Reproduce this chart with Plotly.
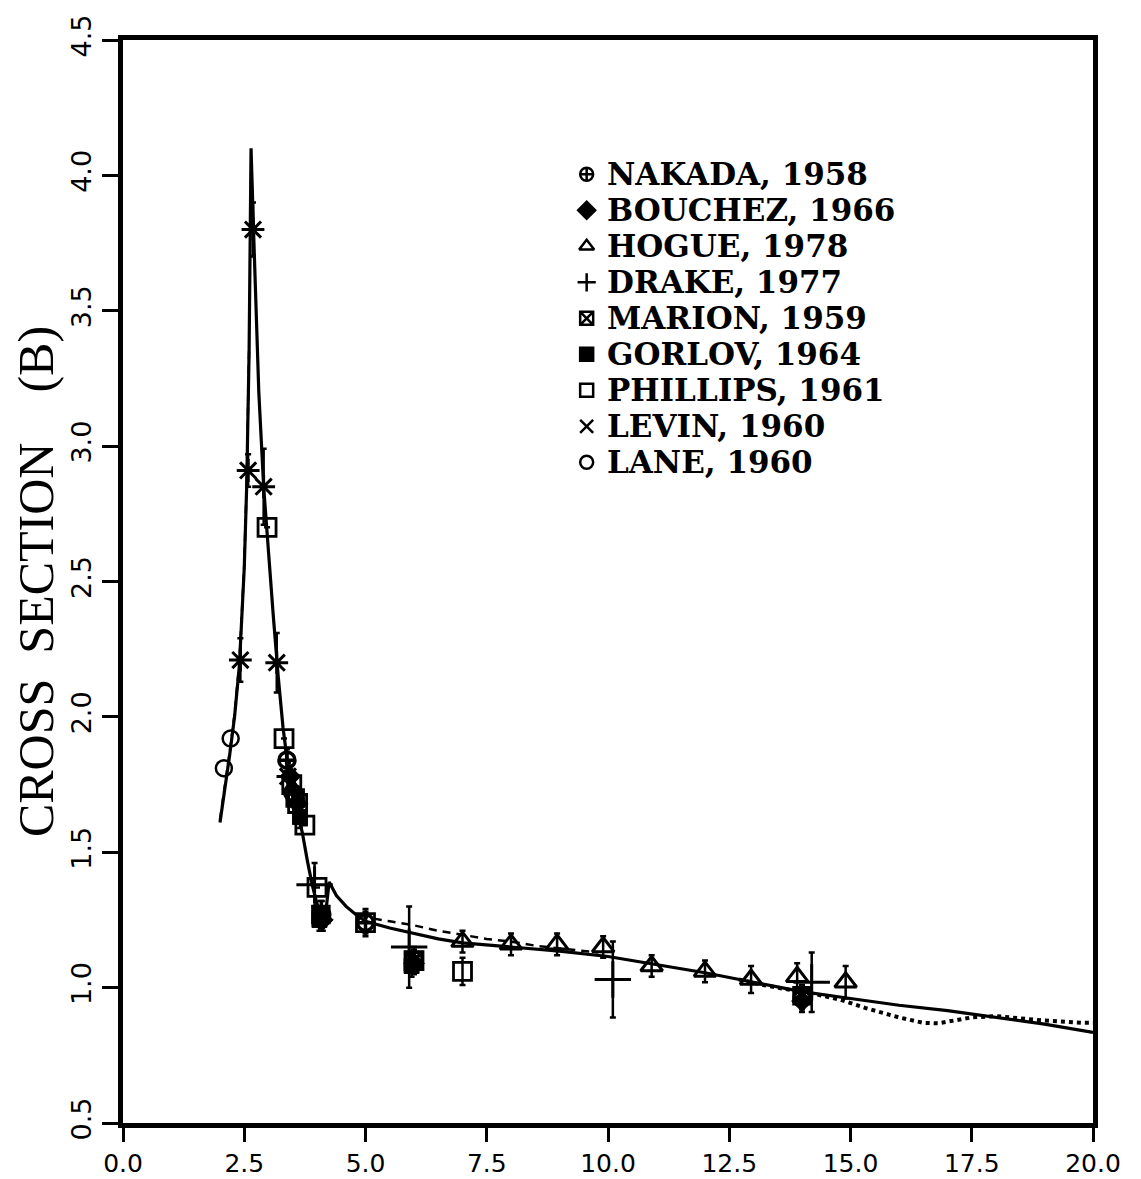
import plotly.graph_objects as go

# ---------------- data ----------------
# theory curve (solid)
curve_x = [2.0, 2.1, 2.2, 2.3, 2.4, 2.5, 2.55, 2.6, 2.64, 2.7, 2.75, 2.8, 2.9, 3.0, 3.1, 3.2,
           3.3, 3.4, 3.5, 3.6, 3.7, 3.8, 3.9, 4.0, 4.1, 4.17, 4.25, 4.4, 4.6, 4.8, 5.0, 5.5,
           6.0, 6.5, 7.0, 8.0, 9.0, 10.0, 11.0, 12.0, 13.0, 14.0, 15.0, 16.0, 17.0, 17.8,
           19.0, 20.0]
curve_y = [1.61, 1.73, 1.86, 2.0, 2.19, 2.55, 2.85, 3.35, 4.1, 3.75, 3.45, 3.2, 2.85, 2.6, 2.37, 2.15,
           1.96, 1.82, 1.72, 1.65, 1.57, 1.47, 1.38, 1.31, 1.27, 1.26, 1.39, 1.34, 1.30, 1.27, 1.245, 1.22,
           1.20, 1.18, 1.165, 1.15, 1.135, 1.115, 1.085, 1.055, 1.02, 0.985, 0.96, 0.935, 0.915, 0.895,
           0.865, 0.835]

# alternative fit (dashed)
dash_x = [2.0, 2.1, 2.2, 2.3, 2.4, 2.5, 2.55, 2.6, None,
          4.9, 5.0, 5.5, 6.0, 6.5, 7.0, 7.5, 8.0, 8.5, 9.0, 9.5, 9.8]
dash_y = [1.62, 1.74, 1.87, 2.01, 2.20, 2.56, 2.86, 3.36, None,
          1.27, 1.26, 1.245, 1.23, 1.21, 1.195, 1.18, 1.17, 1.155, 1.145, 1.135, 1.13]

# alternative fit (dotted)
dot_x = [12.7, 13.2, 13.8, 14.3, 14.8, 15.3, 16.0, 16.5, 16.8, 17.2, 17.5, 18.0, 18.9, 19.8, 20.0]
dot_y = [1.03, 1.01, 0.99, 0.975, 0.955, 0.925, 0.89, 0.87, 0.868, 0.88, 0.89, 0.895, 0.88, 0.87, 0.87]

# experiments
nakada_x = [3.38, 3.5, 4.1, 5.0, 14.0]
nakada_y = [1.84, 1.72, 1.27, 1.24, 0.96]
nakada_e = [0.04, 0.04, 0.05, 0.05, 0.04]

bouchez_x = [3.45, 3.6, 4.12, 6.0, 14.0]
bouchez_y = [1.78, 1.68, 1.25, 1.09, 0.95]
bouchez_e = [0.04, 0.04, 0.04, 0.04, 0.04]

hogue_x = [7.0, 8.0, 8.95, 9.9, 10.9, 12.0, 12.95, 13.9, 14.9]
hogue_y = [1.17, 1.16, 1.16, 1.15, 1.08, 1.06, 1.03, 1.04, 1.02]
hogue_e = [0.04, 0.04, 0.04, 0.04, 0.04, 0.04, 0.05, 0.05, 0.06]

drake_x = [3.95, 5.9, 10.1, 14.2]
drake_y = [1.38, 1.15, 1.03, 1.02]
drake_e = [0.08, 0.15, 0.14, 0.11]

marion_x = [3.55, 4.08, 6.0, 14.0]
marion_y = [1.70, 1.27, 1.10, 0.97]
marion_e = [0.04, 0.05, 0.05, 0.04]

gorlov_x = [3.65, 4.05, 5.95]
gorlov_y = [1.63, 1.25, 1.08]
gorlov_e = [0.04, 0.04, 0.04]

phillips_x = [2.97, 3.32, 3.48, 3.6, 3.75, 4.0, 5.0, 6.0, 7.0]
phillips_y = [2.70, 1.92, 1.75, 1.68, 1.60, 1.37, 1.24, 1.10, 1.06]
phillips_e = [0.0, 0.0, 0.0, 0.0, 0.0, 0.0, 0.04, 0.04, 0.05]

levin_x = [2.42, 2.58, 2.68, 2.9, 3.17, 3.4]
levin_y = [2.21, 2.91, 3.80, 2.85, 2.20, 1.78]
levin_e = [0.08, 0.06, 0.1, 0.14, 0.11, 0.05]

lane_x = [2.08, 2.22]
lane_y = [1.81, 1.92]

legend_names = ["NAKADA, 1958", "BOUCHEZ, 1966", "HOGUE, 1978", "DRAKE, 1977",
                "MARION, 1959", "GORLOV, 1964", "PHILLIPS, 1961", "LEVIN, 1960", "LANE, 1960"]

x_ticks = [0.0, 2.5, 5.0, 7.5, 10.0, 12.5, 15.0, 17.5, 20.0]
y_ticks = [0.5, 1.0, 1.5, 2.0, 2.5, 3.0, 3.5, 4.0, 4.5]

# ---------------- figure ----------------
fig = go.Figure()

fig.add_trace(go.Scatter(x=dash_x, y=dash_y, mode="lines",
                         line=dict(color="black", width=2.5, dash="8px,6px"), hoverinfo="skip"))
fig.add_trace(go.Scatter(x=dot_x, y=dot_y, mode="lines",
                         line=dict(color="black", width=4, dash="dot"), hoverinfo="skip"))
fig.add_trace(go.Scatter(x=curve_x, y=curve_y, mode="lines",
                         line=dict(color="black", width=3.2), hoverinfo="skip"))


def err(arr):
    return dict(type="data", array=arr, visible=True, color="black", thickness=2.5, width=3)


series = [
    (nakada_x, nakada_y, nakada_e, "circle-cross-open", 16, 3.5),
    (bouchez_x, bouchez_y, bouchez_e, "diamond", 16, 1),
    (hogue_x, hogue_y, hogue_e, "triangle-up-open", 19, 3),
    (drake_x, drake_y, drake_e, "cross-thin-open", 26, 3),
    (marion_x, marion_y, marion_e, "square-x-open", 16, 3.5),
    (gorlov_x, gorlov_y, gorlov_e, "square", 15, 1),
    (phillips_x, phillips_y, phillips_e, "square-open", 18, 2.8),
    (levin_x, levin_y, levin_e, "asterisk-open", 19, 3),
    (lane_x, lane_y, None, "circle-open", 16, 2.5),
]

for sx, sy, se, sym, size, lw in series:
    fig.add_trace(go.Scatter(
        x=sx, y=sy, mode="markers",
        error_y=err(se) if se is not None else None,
        marker=dict(symbol=sym, size=size, color="black", line=dict(color="black", width=lw)),
        hoverinfo="skip"))

# legend drawn on an overlay axis in paper-like units
leg_syms = ["circle-cross-open", "diamond", "triangle-up-open", "cross-thin-open",
            "square-x-open", "square", "square-open", "x-thin-open", "circle-open"]
leg_x0, leg_y0, leg_dy = 0.478, 0.876, 0.03324
leg_y = [leg_y0 - i * leg_dy for i in range(len(legend_names))]
fig.add_trace(go.Scatter(
    x=[leg_x0] * len(legend_names), y=leg_y, mode="markers", xaxis="x2", yaxis="y2",
    marker=dict(symbol=leg_syms, size=13, color="black", line=dict(color="black", width=2.5)),
    hoverinfo="skip"))

for name, yy in zip(legend_names, leg_y):
    fig.add_annotation(x=0.497, y=yy, xref="paper", yref="paper", text=name, showarrow=False,
                       xanchor="left", yanchor="middle",
                       font=dict(family="DejaVu Serif", size=31, color="black", weight="bold"))

# the page body adds an 8px offset, so the figure is sized/offset accordingly
fig.update_layout(
    width=1133, height=1180,
    margin=dict(l=115, r=48, t=32, b=65, autoexpand=False),
    paper_bgcolor="white", plot_bgcolor="white",
    showlegend=False,
    xaxis=dict(range=[0, 20], tickvals=x_ticks, ticktext=[f"{v:.1f}" for v in x_ticks],
               showgrid=False, zeroline=False, showline=True, linecolor="black", linewidth=5,
               mirror=True, ticks="outside", ticklen=14, tickwidth=3, tickcolor="black",
               automargin=False,
               tickfont=dict(family="DejaVu Sans", size=25, color="black")),
    yaxis=dict(range=[0.5, 4.5], tickvals=y_ticks, ticktext=[f"{v:.1f}" for v in y_ticks],
               showgrid=False, zeroline=False, showline=True, linecolor="black", linewidth=5,
               mirror=True, ticks="outside", ticklen=16, tickwidth=3, tickcolor="black",
               tickangle=-90, automargin=False,
               tickfont=dict(family="DejaVu Sans", size=27, color="black"),
               title=dict(text="CROSS\u00a0\u00a0SECTION\u00a0\u00a0\u00a0\u00a0(B)",
                          font=dict(family="Liberation Serif", size=50, color="black"),
                          standoff=10)),
    xaxis2=dict(overlaying="x", range=[0, 1], visible=False, fixedrange=True),
    yaxis2=dict(overlaying="y", range=[0, 1], visible=False, fixedrange=True),
)

fig.write_html("out.html")
